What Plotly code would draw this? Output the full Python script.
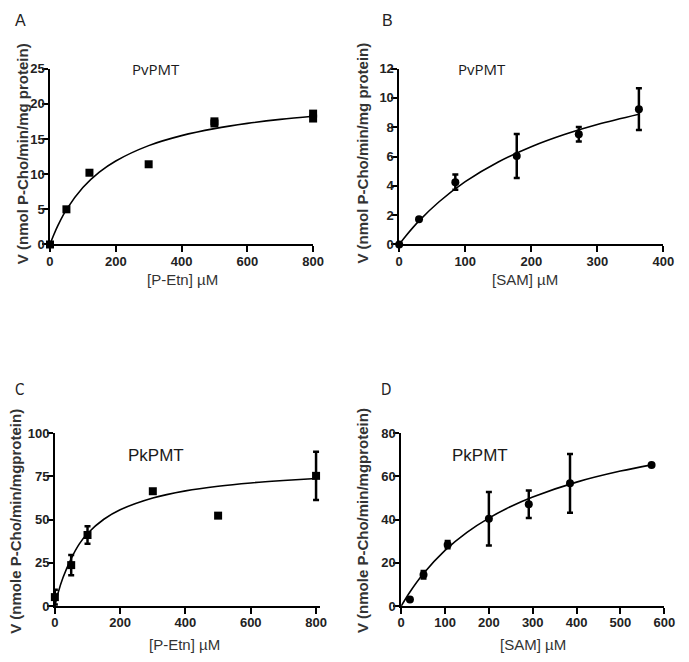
import plotly.graph_objects as go

W, H = 689, 662

# ---------------- data ----------------
# Panel A: PvPMT vs [P-Etn]
a_x = [0, 50, 120, 300, 500, 500, 800, 800]
a_y = [0, 5.0, 10.2, 11.4, 17.2, 17.5, 17.9, 18.6]
a_fit_x = [0, 10, 25, 50, 100, 150, 200, 300, 400, 500, 600, 700, 800]
a_fit_y = [0, 1.21, 2.79, 4.96, 8.10, 10.28, 11.87, 14.05, 15.47, 16.47, 17.21, 17.78, 18.23]

# Panel B: PvPMT vs [SAM]
b_x = [0, 30, 85, 178, 272, 363]
b_y = [0, 1.72, 4.25, 6.03, 7.52, 9.23]
b_err = [0, 0, 0.52, 1.5, 0.5, 1.42]
b_fit_x = [0, 10, 30, 60, 100, 150, 200, 250, 300, 363]
b_fit_y = [0, 0.58, 1.61, 2.90, 4.29, 5.63, 6.67, 7.50, 8.18, 8.88]

# Panel C: PkPMT vs [P-Etn]
c_x = [0, 50, 100, 300, 500, 800]
c_y = [5.2, 23.7, 41.1, 66.4, 52.3, 75.3]
c_err = [4.3, 5.8, 5.1, 0, 0, 14.0]
c_fit_x = [0, 10, 25, 50, 75, 100, 150, 200, 300, 400, 500, 600, 700, 800]
c_fit_y = [0, 7.7, 16.5, 27.5, 36.0, 42.0, 50.2, 55.7, 62.5, 66.6, 69.3, 71.2, 72.6, 73.8]

# Panel D: PkPMT vs [SAM]
d_x = [20, 51, 106, 200, 291, 385, 571]
d_y = [3.0, 14.5, 28.4, 40.4, 47.1, 56.8, 65.3]
d_err = [0, 1.7, 1.7, 12.4, 6.4, 13.6, 0]
d_fit_x = [0, 20, 50, 100, 150, 200, 250, 300, 400, 500, 571]
d_fit_y = [0, 6.55, 14.86, 25.77, 34.12, 40.71, 46.06, 50.47, 57.34, 62.44, 65.33]

panel_letters = ["A", "B", "C", "D"]
panel_titles = ["PvPMT", "PvPMT", "PkPMT", "PkPMT"]
x_titles = ["[P-Etn] µM", "[SAM] µM", "[P-Etn] µM", "[SAM] µM"]
y_titles = ["V (nmol P-Cho/min/mg protein)", "V (nmol P-Cho/min/mg protein)",
            "V (nmole P-Cho/min/mgprotein)", "V (nmole P-Cho/min/mgprotein)"]
x_tickvals = [[0, 200, 400, 600, 800], [0, 100, 200, 300, 400],
              [0, 200, 400, 600, 800], [0, 100, 200, 300, 400, 500, 600]]
y_tickvals = [[0, 5, 10, 15, 20, 25], [0, 2, 4, 6, 8, 10, 12],
              [0, 25, 50, 75, 100], [0, 20, 40, 60, 80]]
# small extra room beyond the last x tick (so an error bar at the edge is not clipped)
x_extra = [0, 0, 12, 0]

# ---------------- layout helpers ----------------
def px(x):
    return x / W

def py(y):
    return 1 - y / H

# plot-area boxes in pixels: (left, right-at-last-tick, top, bottom)
boxes = [(47, 316, 63, 243), (404, 674, 63, 243), (52, 319, 436, 613), (406, 675, 436, 613)]

fig = go.Figure()

sans = "Arial"

def add_panel(i, x, y, err, fx, fy, symbol):
    xa = "x" if i == 0 else f"x{i+1}"
    ya = "y" if i == 0 else f"y{i+1}"
    fig.add_trace(go.Scatter(x=fx, y=fy, mode="lines", line=dict(color="black", width=1.6, shape="spline"),
                             xaxis=xa, yaxis=ya, showlegend=False, hoverinfo="skip", cliponaxis=False))
    ey = None
    if err is not None:
        ey = dict(type="data", array=err, visible=True, color="black", thickness=2.5, width=3)
    fig.add_trace(go.Scatter(x=x, y=y, mode="markers",
                             marker=dict(symbol=symbol, size=8, color="black"),
                             error_y=ey, xaxis=xa, yaxis=ya, showlegend=False, cliponaxis=False))

add_panel(0, a_x, a_y, None, a_fit_x, a_fit_y, "square")
add_panel(1, b_x, b_y, b_err, b_fit_x, b_fit_y, "circle")
add_panel(2, c_x, c_y, c_err, c_fit_x, c_fit_y, "square")
add_panel(3, d_x, d_y, d_err, d_fit_x, d_fit_y, "circle")

layout = dict(width=W, height=H, margin=dict(l=0, r=0, t=0, b=0),
              paper_bgcolor="white", plot_bgcolor="white", showlegend=False)

for i, (l, r, t, b) in enumerate(boxes):
    xk = "xaxis" if i == 0 else f"xaxis{i+1}"
    yk = "yaxis" if i == 0 else f"yaxis{i+1}"
    yanchor = "y" if i == 0 else f"y{i+1}"
    xanchor = "x" if i == 0 else f"x{i+1}"
    common = dict(showline=True, linecolor="black", linewidth=1.5, ticks="outside", ticklen=6,
                  tickwidth=1.5, tickcolor="black", showgrid=False, zeroline=False,
                  tickfont=dict(family=sans, size=13, color="#222222"),
                  fixedrange=True, tickmode="array")
    xv = x_tickvals[i]
    yv = y_tickvals[i]
    xmax = xv[-1] + x_extra[i]
    r_px = l + (r - l) * xmax / xv[-1]
    layout[xk] = dict(domain=[px(l), px(r_px)], range=[xv[0], xmax], tickvals=xv,
                      ticktext=[f"<b>{v}</b>" for v in xv], anchor=yanchor,
                      ticklabelstandoff=-2, **common)
    layout[yk] = dict(domain=[py(b), py(t)], range=[yv[0], yv[-1]], tickvals=yv,
                      ticktext=[f"<b>{v}</b>" for v in yv], anchor=xanchor,
                      ticklabelstandoff=-5, **common)

fig.update_layout(**layout)

# annotations: panel letters, titles, axis titles
narrow = "DejaVu Sans Condensed, Liberation Sans Narrow, sans-serif"
letter_pos = [(17, 14), (392, 14), (16, 392), (390, 392)]
letter_fonts = [dict(family=sans, size=16, color="#222222"),
                dict(family=sans, size=16, color="#222222"),
                dict(family=narrow, size=15, color="#222222"),
                dict(family=narrow, size=15, color="#222222")]
title_pos = [(155, 63), (489, 63), (155, 459), (487, 459)]
title_fonts = [dict(family="Open Sans, sans-serif", size=15, color="#1a1a1a"),
               dict(family="Open Sans, sans-serif", size=15, color="#1a1a1a"),
               dict(family=sans, size=17, color="#1a1a1a"),
               dict(family=sans, size=17, color="#1a1a1a")]
xt_pos = [(182, 279), (533, 279), (185, 652), (541, 652)]
yt_pos = [(19, 150), (367, 150), (11, 526), (366, 526)]

for i in range(4):
    lx, ly = letter_pos[i]
    fig.add_annotation(x=px(lx), y=py(ly), xref="paper", yref="paper", text=panel_letters[i],
                       showarrow=False, font=letter_fonts[i], xanchor="center", yanchor="middle")
    tx, ty = title_pos[i]
    fig.add_annotation(x=px(tx), y=py(ty), xref="paper", yref="paper", text=panel_titles[i],
                       showarrow=False, font=title_fonts[i], xanchor="center", yanchor="middle")
    xx, xy = xt_pos[i]
    fig.add_annotation(x=px(xx), y=py(xy), xref="paper", yref="paper", text=x_titles[i],
                       showarrow=False, font=dict(family=sans, size=15, color="#333333"),
                       xanchor="center", yanchor="middle")
    yx, yy = yt_pos[i]
    fig.add_annotation(x=px(yx), y=py(yy), xref="paper", yref="paper", text=f"<b>{y_titles[i]}</b>",
                       showarrow=False, textangle=-90,
                       font=dict(family=sans, size=15, color="#333333"),
                       xanchor="center", yanchor="middle")

fig.write_html("out.html", config={"displayModeBar": False},
               post_script="document.body.style.margin='0px';document.body.style.padding='0px';")
